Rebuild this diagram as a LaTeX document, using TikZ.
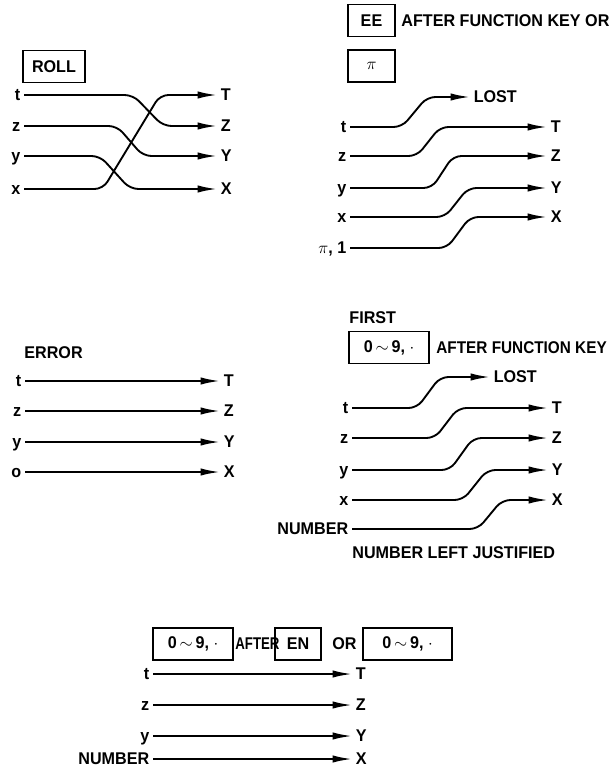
\documentclass[tikz,border=0pt]{standalone}
\usepackage{fontspec}
\setmainfont{Liberation Sans}[FakeStretch=0.95]
\usetikzlibrary{arrows.meta}
\begin{document}
\begin{tikzpicture}[
  x=0.03cm, y=-0.03cm,
  every node/.style={font=\bfseries\fontsize{14.5}{16}\selectfont},
  key/.style={draw, line width=1.3pt, minimum height=0.95cm, inner sep=0pt},
  txt/.style={anchor=west, inner sep=1pt},
  src/.style={anchor=east, inner sep=3pt, text height=10pt, text depth=0pt},
  dst/.style={anchor=west, inner sep=3pt, text height=10pt, text depth=0pt},
  wire/.style={line width=1.6pt, -{Latex[length=0.58cm,width=0.22cm]}},
  jog/.style={wire, rounded corners=0.25cm}
]
  \useasboundingbox (0,0) rectangle (611,768);

  \node[key, minimum width=1.86cm] (roll) at (54,66.5) {ROLL};
  \node[src] (rt) at (24,95) {t};
  \node[src] (rz) at (24,126) {z};
  \node[src] (ry) at (24,156) {y};
  \node[src] (rx) at (24,189) {x};
  \node[dst] (rT) at (217,95) {T};
  \node[dst] (rZ) at (217,126) {Z};
  \node[dst] (rY) at (217,156) {Y};
  \node[dst] (rX) at (217,189) {X};
  \draw[jog] (rt.east) -- (133,0 |- rt.east) -- (163,0 |- rZ.west) -- (rZ.west);
  \draw[jog] (rz.east) -- (117,0 |- rz.east) -- (143,0 |- rY.west) -- (rY.west);
  \draw[jog] (ry.east) -- (100,0 |- ry.east) -- (130,0 |- rX.west) -- (rX.west);
  \draw[jog] (rx.east) -- (103,0 |- rx.east) -- (160,0 |- rT.west) -- (rT.west);

  \node[key, minimum width=1.41cm] (ee) at (371.5,20.5) {EE};
  \node[txt] (eenote) at (400,20.5) {AFTER FUNCTION KEY OR};
  \node[key, minimum width=1.41cm] (pikey) at (371.5,66) {$\pi$};
  \node[src] (et) at (350,127) {t};
  \node[src] (ez) at (350,156) {z};
  \node[src] (ey) at (350,188) {y};
  \node[src] (ex) at (350,217) {x};
  \node[src] (ep) at (350,248) {$\pi$, 1};
  \node[dst] (eL) at (470,97) {LOST};
  \node[dst] (eT) at (547,127) {T};
  \node[dst] (eZ) at (547,156) {Z};
  \node[dst] (eY) at (547,188) {Y};
  \node[dst] (eX) at (547,217) {X};
  \draw[jog] (et.east) -- (402,0 |- et.east) -- (427,0 |- eL.west) -- (eL.west);
  \draw[jog] (ez.east) -- (417,0 |- ez.east) -- (440,0 |- eT.west) -- (eT.west);
  \draw[jog] (ey.east) -- (432,0 |- ey.east) -- (453,0 |- eZ.west) -- (eZ.west);
  \draw[jog] (ex.east) -- (445,0 |- ex.east) -- (468,0 |- eY.west) -- (eY.west);
  \draw[jog] (ep.east) -- (447,0 |- ep.east) -- (470,0 |- eX.west) -- (eX.west);

  \node[txt] (err) at (23,353) {ERROR};
  \node[src] (ot) at (25,381) {t};
  \node[src] (oz) at (25,411) {z};
  \node[src] (oy) at (25,442) {y};
  \node[src] (oo) at (25,472) {o};
  \node[dst] (oT) at (220,381) {T};
  \node[dst] (oZ) at (220,411) {Z};
  \node[dst] (oY) at (220,442) {Y};
  \node[dst] (oX) at (220,472) {X};
  \draw[wire] (ot) -- (oT);
  \draw[wire] (oz) -- (oZ);
  \draw[wire] (oy) -- (oY);
  \draw[wire] (oo) -- (oX);

  \node[txt] (first) at (348,318) {FIRST};
  \node[key, minimum width=2.4cm] (fkey) at (389,347.5) {0\,$\sim$\,9, $\cdot$};
  \node[txt] (fnote) at (435,348) {\scalebox{0.95}[1]{AFTER FUNCTION KEY}};
  \node[src] (ft) at (352,408) {t};
  \node[src] (fz) at (352,438) {z};
  \node[src] (fy) at (352,470) {y};
  \node[src] (fx) at (352,500) {x};
  \node[src] (fn) at (352,529) {NUMBER};
  \node[dst] (fL) at (490,377) {LOST};
  \node[dst] (fT) at (548,408) {T};
  \node[dst] (fZ) at (548,438) {Z};
  \node[dst] (fY) at (548,470) {Y};
  \node[dst] (fX) at (548,500) {X};
  \draw[jog] (ft.east) -- (417,0 |- ft.east) -- (440,0 |- fL.west) -- (fL.west);
  \draw[jog] (fz.east) -- (435,0 |- fz.east) -- (458,0 |- fT.west) -- (fT.west);
  \draw[jog] (fy.east) -- (450,0 |- fy.east) -- (473,0 |- fZ.west) -- (fZ.west);
  \draw[jog] (fx.east) -- (463,0 |- fx.east) -- (487,0 |- fY.west) -- (fY.west);
  \draw[jog] (fn.east) -- (478,0 |- fn.east) -- (502,0 |- fX.west) -- (fX.west);
  \node[txt] (just) at (351,553) {NUMBER LEFT JUSTIFIED};

  \node[key, minimum width=2.4cm] (nkey) at (193,644) {0\,$\sim$\,9, $\cdot$};
  \node[txt] (after) at (234,644) {\scalebox{0.82}[1]{AFTER}};
  \node[key, minimum width=1.38cm] (en) at (298,644) {EN};
  \node[txt] (or) at (331,644) {OR};
  \node[key, minimum width=2.67cm] (nkey2) at (407.5,644) {0\,$\sim$\,9, $\cdot$};
  \node[src] (nt) at (153,674) {t};
  \node[src] (nz) at (153,705) {z};
  \node[src] (ny) at (153,736) {y};
  \node[src] (nn) at (153,759) {NUMBER};
  \node[dst] (nT) at (352,674) {T};
  \node[dst] (nZ) at (352,705) {Z};
  \node[dst] (nY) at (352,736) {Y};
  \node[dst] (nX) at (352,759) {X};
  \draw[wire] (nt) -- (nT);
  \draw[wire] (nz) -- (nZ);
  \draw[wire] (ny) -- (nY);
  \draw[wire] (nn) -- (nX);
\end{tikzpicture}
\end{document}
